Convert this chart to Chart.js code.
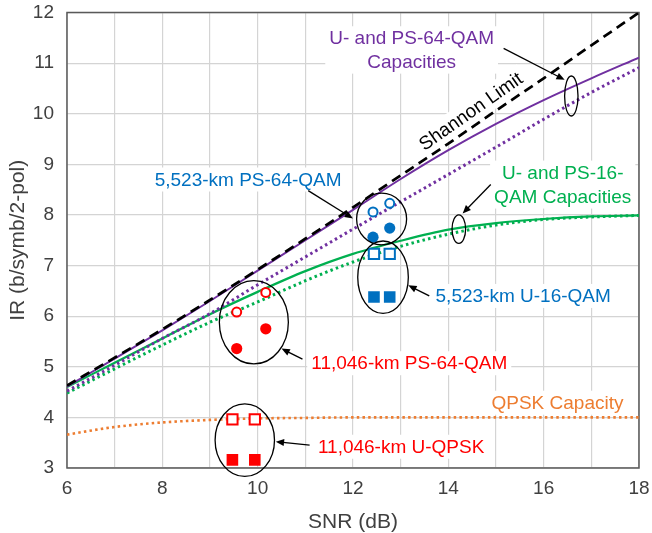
<!DOCTYPE html>
<html>
<head>
<meta charset="utf-8">
<script src="https://cdn.jsdelivr.net/npm/chart.js@4"></script>
<style>
  body { margin: 0; background: #fff; }
  canvas { display: block; }
</style>
</head>
<body>
<canvas id="chart" width="652" height="533"></canvas>
<script>
// ── Data ──────────────────────────────────────────────
const snr        = [6, 7, 8, 9, 10, 11, 12, 13, 14, 15, 16, 17, 18]
const shannon    = [4.63, 5.18, 5.74, 6.32, 6.92, 7.53, 8.15, 8.78, 9.41, 10.06, 10.70, 11.35, 12.00]
const ps64Cap    = [4.61, 5.16, 5.72, 6.30, 6.90, 7.50, 8.10, 8.71, 9.28, 9.80, 10.27, 10.70, 11.11]
const u64Cap     = [4.52, 5.03, 5.56, 6.05, 6.62, 7.17, 7.72, 8.26, 8.80, 9.34, 9.89, 10.42, 10.91]
const ps16Cap    = [4.60, 5.08, 5.56, 6.04, 6.48, 6.89, 7.23, 7.49, 7.71, 7.84, 7.92, 7.97, 7.99]
const u16Cap     = [4.48, 4.96, 5.43, 5.88, 6.28, 6.70, 7.07, 7.38, 7.62, 7.80, 7.91, 7.96, 7.99]
const qpskCap    = [3.66, 3.81, 3.90, 3.95, 3.98, 3.99, 4.00, 4.00, 4.00, 4.00, 4.00, 4.00, 4.00]

const snr5523     = [12.42, 12.77]
const ps64Open5523   = [8.06, 8.23]
const ps64Filled5523 = [7.56, 7.74]
const u16Snr5523     = [12.44, 12.77]
const u16Open5523    = [7.23, 7.23]
const u16Filled5523  = [6.38, 6.38]

const snr11046        = [9.56, 10.17]
const ps64Open11046   = [6.08, 6.47]
const ps64Filled11046 = [5.36, 5.75]
const qpskSnr11046    = [9.47, 9.94]
const qpskOpen11046   = [3.96, 3.96]
const qpskFilled11046 = [3.16, 3.16]

const xTicks = [6, 8, 10, 12, 14, 16, 18]

// ── Styles ────────────────────────────────────────────
const PURPLE = '#7030A0'
const GREEN  = '#00B050'
const ORANGE = '#ED7D31'
const BLUE   = '#0070C0'
const RED    = '#FF0000'
const FONT   = "'Liberation Sans', Arial, sans-serif"

const zip = (xs, ys) => xs.map((x, i) => ({ x, y: ys[i] }))

function curve(data, color, dashed, width) {
  return {
    data: zip(snr, data),
    borderColor: color,
    borderWidth: width,
    borderDash: dashed,
    pointRadius: 0,
    showLine: true,
    fill: false,
    cubicInterpolationMode: 'monotone',
    order: 2
  }
}

function marks(xs, ys, color, style, r, open) {
  return {
    data: zip(xs, ys),
    pointStyle: style,
    pointRadius: r,
    pointBorderWidth: open ? 2 : 0,
    pointBorderColor: color,
    pointBackgroundColor: open ? '#fff' : color,
    showLine: false,
    order: 1
  }
}

// ── Annotations ───────────────────────────────────────
const notes = [
  { lines: ['U- and PS-64-QAM', 'Capacities'], x: 13.23, y: 11.26, color: PURPLE, gap: 23.4 },
  { lines: ['Shannon Limit'], x: 14.47, y: 10.05, color: '#000', rot: -35 },
  { lines: ['5,523-km PS-64-QAM'], x: 9.80, y: 8.70, color: BLUE },
  { lines: ['U- and PS-16-', 'QAM Capacities'], x: 16.40, y: 8.60, color: GREEN, gap: 24 },
  { lines: ['5,523-km U-16-QAM'], x: 15.57, y: 6.40, color: BLUE },
  { lines: ['11,046-km PS-64-QAM'], x: 13.18, y: 5.07, color: RED },
  { lines: ['QPSK Capacity'], x: 16.29, y: 4.29, color: ORANGE },
  { lines: ['11,046-km U-QPSK'], x: 13.01, y: 3.42, color: RED }
]

const arrows = [
  [15.16, 11.29, 16.44, 10.67],
  [14.89, 8.60, 14.30, 8.03],
  [11.06, 8.48, 12.00, 7.93],
  [13.60, 6.40, 13.16, 6.61],
  [10.94, 5.15, 10.50, 5.36],
  [11.09, 3.45, 10.38, 3.52]
]

const ellipses = [
  [9.92, 5.88, 34.5, 41.7],
  [9.73, 3.55, 29.7, 36.3],
  [12.60, 7.92, 25, 25.8],
  [12.63, 6.77, 25.3, 36.2],
  [16.58, 10.35, 6.7, 20],
  [14.22, 7.72, 6.8, 14.2]
]

const annotate = {
  id: 'annotate',
  beforeDatasetsDraw(chart) {
    const { ctx, chartArea: a, scales: { x, y } } = chart
    ctx.save()
    // plot frame
    ctx.strokeStyle = '#595959'
    ctx.lineWidth = 1.5
    ctx.strokeRect(a.left, a.top, a.right - a.left, a.bottom - a.top)

    // labels with white boxes
    ctx.font = '19px ' + FONT
    ctx.textAlign = 'center'
    ctx.textBaseline = 'middle'
    notes.forEach(n => {
      const cx = x.getPixelForValue(n.x)
      const cy = y.getPixelForValue(n.y)
      const gap = n.gap || 0
      const w = Math.max(...n.lines.map(l => ctx.measureText(l).width))
      const h = gap * (n.lines.length - 1) + 20
      ctx.save()
      ctx.translate(cx, cy)
      if (n.rot) ctx.rotate(n.rot * Math.PI / 180)
      ctx.fillStyle = '#fff'
      ctx.fillRect(-w / 2 - 4, -h / 2 - 2, w + 8, h + 4)
      ctx.fillStyle = n.color
      n.lines.forEach((l, i) => {
        ctx.fillText(l, 0, (i - (n.lines.length - 1) / 2) * gap + 1)
      })
      ctx.restore()
    })
    ctx.restore()
  },
  afterDatasetsDraw(chart) {
    const { ctx, scales: { x, y } } = chart
    ctx.save()
    ctx.strokeStyle = '#000'
    ctx.fillStyle = '#000'
    ctx.lineWidth = 1.3

    ellipses.forEach(([ex, ey, rx, ry]) => {
      ctx.beginPath()
      ctx.ellipse(x.getPixelForValue(ex), y.getPixelForValue(ey), rx, ry, 0, 0, Math.PI * 2)
      ctx.stroke()
    })

    arrows.forEach(([x1, y1, x2, y2]) => {
      const p1 = [x.getPixelForValue(x1), y.getPixelForValue(y1)]
      const p2 = [x.getPixelForValue(x2), y.getPixelForValue(y2)]
      const ang = Math.atan2(p2[1] - p1[1], p2[0] - p1[0])
      const len = 9
      ctx.beginPath()
      ctx.moveTo(p1[0], p1[1])
      ctx.lineTo(p2[0] - Math.cos(ang) * len * 0.8, p2[1] - Math.sin(ang) * len * 0.8)
      ctx.stroke()
      ctx.beginPath()
      ctx.moveTo(p2[0], p2[1])
      ctx.lineTo(p2[0] - len * Math.cos(ang - 0.4), p2[1] - len * Math.sin(ang - 0.4))
      ctx.lineTo(p2[0] - len * Math.cos(ang + 0.4), p2[1] - len * Math.sin(ang + 0.4))
      ctx.closePath()
      ctx.fill()
    })
    ctx.restore()
  }
}

// ── Chart ─────────────────────────────────────────────
new Chart(document.getElementById('chart'), {
  type: 'scatter',
  data: {
    datasets: [
      marks(snr5523, ps64Open5523, BLUE, 'circle', 4.5, true),
      marks(snr5523, ps64Filled5523, BLUE, 'circle', 5.6, false),
      marks(u16Snr5523, u16Open5523, BLUE, 'rect', 7.3, true),
      marks(u16Snr5523, u16Filled5523, BLUE, 'rect', 8.2, false),
      marks(snr11046, ps64Open11046, RED, 'circle', 4.5, true),
      marks(snr11046, ps64Filled11046, RED, 'circle', 5.6, false),
      marks(qpskSnr11046, qpskOpen11046, RED, 'rect', 7.3, true),
      marks(qpskSnr11046, qpskFilled11046, RED, 'rect', 8.2, false),
      curve(shannon, '#000', [10, 6], 2.7),
      curve(ps64Cap, PURPLE, [], 2),
      curve(u64Cap, PURPLE, [2.5, 3.2], 3),
      curve(ps16Cap, GREEN, [], 2.2),
      curve(u16Cap, GREEN, [2.5, 3.2], 3),
      curve(qpskCap, ORANGE, [2.5, 3.2], 2.6)
    ]
  },
  options: {
    responsive: false,
    animation: false,
    layout: { padding: { top: 12.5, right: 13, left: 0, bottom: 0 } },
    plugins: { legend: { display: false }, tooltip: { enabled: false } },
    scales: {
      x: {
        type: 'linear',
        min: 6,
        max: 18,
        afterFit: s => { s.height = 65; s.paddingLeft = 0; s.paddingRight = 0 },
        border: { display: false },
        grid: { color: '#d4d4d4', lineWidth: 1.2, drawTicks: false },
        ticks: {
          stepSize: 1,
          autoSkip: false,
          maxRotation: 0,
          padding: 9,
          color: '#404040',
          font: { family: FONT, size: 19 },
          callback: v => xTicks.includes(v) ? v : ''
        },
        title: {
          display: true,
          text: 'SNR (dB)',
          color: '#404040',
          font: { family: FONT, size: 21 },
          padding: { top: 0, bottom: -2 }
        }
      },
      y: {
        min: 3,
        max: 12,
        afterFit: s => { s.width = 67; s.paddingTop = 0; s.paddingBottom = 0 },
        border: { display: false },
        grid: { color: '#d4d4d4', lineWidth: 1.2, drawTicks: false },
        ticks: {
          stepSize: 1,
          padding: 13,
          color: '#404040',
          font: { family: FONT, size: 19 }
        },
        title: {
          display: true,
          text: 'IR (b/symb/2-pol)',
          color: '#404040',
          font: { family: FONT, size: 21 },
          padding: { top: 6, bottom: 0 }
        }
      }
    }
  },
  plugins: [annotate]
})
</script>
</body>
</html>
